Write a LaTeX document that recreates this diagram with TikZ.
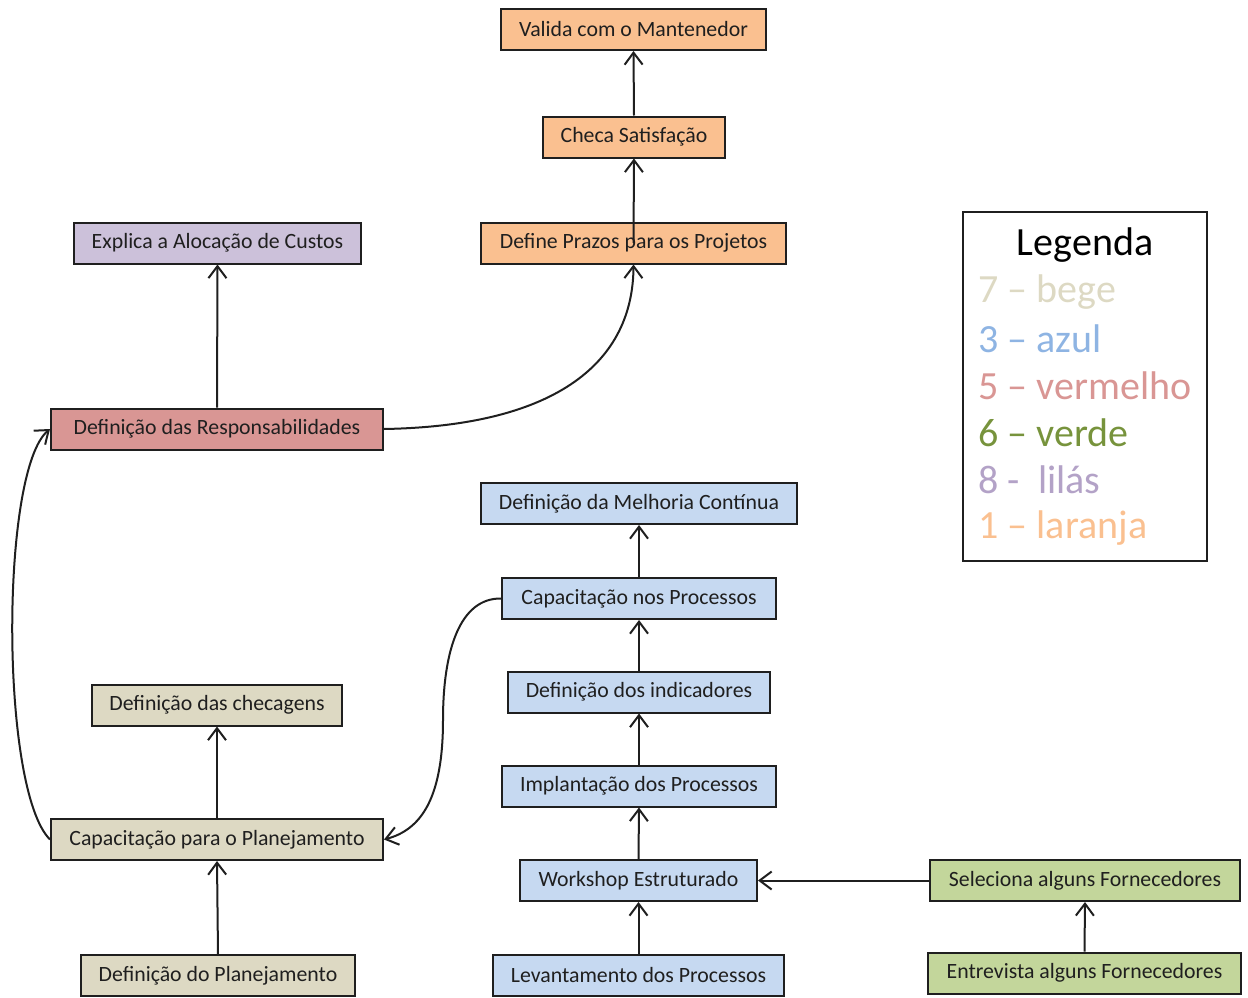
\documentclass[tikz,border=0pt]{standalone}
\usepackage{fontspec}
\setmainfont{Carlito}
\usetikzlibrary{arrows.meta}
\definecolor{laranja}{HTML}{FAC090}
\definecolor{lilas}{HTML}{CCC1DA}
\definecolor{vermelho}{HTML}{D99694}
\definecolor{azul}{HTML}{C6D9F1}
\definecolor{bege}{HTML}{DDD9C3}
\definecolor{verde}{HTML}{C3D69B}
\definecolor{txtbege}{HTML}{DDD9C3}
\definecolor{txtazul}{HTML}{8EB4E3}
\definecolor{txtvermelho}{HTML}{D99694}
\definecolor{txtverde}{HTML}{77933C}
\definecolor{txtlilas}{HTML}{B3A2C7}
\definecolor{txtlaranja}{HTML}{FAC090}
\definecolor{ink}{HTML}{1F1F1F}
\tikzset{
  box/.style={draw=ink, line width=2pt, minimum height=41pt, inner xsep=0pt,
    font=\fontsize{21.8}{24}\selectfont, text=ink},
  flow/.style={draw=ink, line width=2pt,
    -{Straight Barb[length=12pt,width=18pt,line width=2pt]}},
  leg/.style={anchor=west, font=\fontsize{40}{44}\selectfont}
}
\begin{document}
\begin{tikzpicture}[x=1pt,y=-1pt]
\useasboundingbox (0,0) rectangle (1248,998);

% orange column at the top
\node[box, fill=laranja, minimum width=265pt] (val) at (633.5,29.5) {Valida com o Mantenedor};
\node[box, fill=laranja, minimum width=182pt] (chk) at (634,137) {Checa Satisfação};
\node[box, fill=laranja, minimum width=305pt] (prz) at (633.5,243) {Define Prazos para os Projetos};

% lilac and red
\node[box, fill=lilas, minimum width=287pt] (cus) at (217.5,243) {Explica a Alocação de Custos};
\node[box, fill=vermelho, minimum width=332pt] (resp) at (217,429) {Definição das Responsabilidades};

% blue column
\node[box, fill=azul, minimum width=316pt] (mel) at (639,503.5) {Definição da Melhoria Contínua};
\node[box, fill=azul, minimum width=274pt] (cnp) at (639,598.5) {Capacitação nos Processos};
\node[box, fill=azul, minimum width=262pt] (ind) at (639,692) {Definição dos indicadores};
\node[box, fill=azul, minimum width=274pt] (imp) at (639,786) {Implantação dos Processos};
\node[box, fill=azul, minimum width=237pt] (wks) at (638.5,880.5) {Workshop Estruturado};
\node[box, fill=azul, minimum width=291pt] (lev) at (638.5,975.5) {Levantamento dos Processos};

% green
\node[box, fill=verde, minimum width=310pt] (sel) at (1085,880.5) {Seleciona alguns Fornecedores};
\node[box, fill=verde, minimum width=313pt] (ent) at (1084.5,973) {Entrevista alguns Fornecedores};

% beige column
\node[box, fill=bege, minimum width=250pt] (chg) at (217,705) {Definição das checagens};
\node[box, fill=bege, minimum width=332pt] (cpp) at (217,839.5) {Capacitação para o Planejamento};
\node[box, fill=bege, minimum width=274pt] (pla) at (218,975.5) {Definição do Planejamento};

% legend
\node[draw=ink, line width=2pt, minimum width=244pt, minimum height=349pt] (legbox) at (1085,386.5) {};
\node[font=\fontsize{40}{44}\selectfont, text=black] (legt) at (1085,245) {Legenda};
\node[leg, text=txtbege] (l1) at (975,292) {7 – bege};
\node[leg, text=txtazul] (l2) at (975,339) {3 – azul};
\node[leg, text=txtvermelho] (l3) at (975,386) {5 – vermelho};
\node[leg, text=txtverde] (l4) at (975,433) {6 – verde};
\node[leg, text=txtlilas] (l5) at (975,480) {8 -\ \ lilás};
\node[leg, text=txtlaranja] (l6) at (975,528) {1 – laranja};

% bend point of the link from the blue column back to the beige one
\coordinate (bend) at (443,720);

% connectors
\draw[flow] (chk.north) -- (val.south);
\draw[flow] (prz.center) -- (chk.south);
\draw[flow] (resp.east) .. controls (560,426) and (633,360) .. (prz.south);
\draw[flow] (resp.north) -- (cus.south);
\draw[flow] (cpp.west) .. controls (0,790) and (0,470) .. (resp.west);
\draw[flow] (cpp.north) -- (chg.south);
\draw[flow] (pla.north) -- (cpp.south);
\draw[flow] (cnp.west) .. controls (460,598) and (443,650) .. (bend)
  .. controls (443,800) and (420,830) .. (cpp.east);
\draw[flow] (lev.north) -- (wks.south);
\draw[flow] (wks.north) -- (imp.south);
\draw[flow] (imp.north) -- (ind.south);
\draw[flow] (ind.north) -- (cnp.south);
\draw[flow] (cnp.north) -- (mel.south);
\draw[flow] (sel.west) -- (wks.east);
\draw[flow] (ent.north) -- (sel.south);
\end{tikzpicture}
\end{document}
